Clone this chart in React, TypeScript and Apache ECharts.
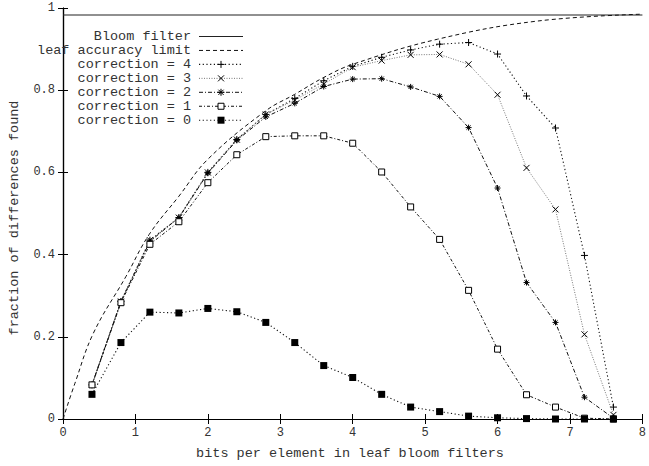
import React, { useEffect, useRef } from "react";
import * as echarts from "echarts";

const xs = [0.4, 0.8, 1.2, 1.6, 2.0, 2.4, 2.8, 3.2, 3.6, 4.0, 4.4, 4.8, 5.2, 5.6, 6.0, 6.4, 6.8, 7.2, 7.6];
const corr4 = [0.083, 0.286, 0.435, 0.49, 0.6, 0.68, 0.741, 0.78, 0.823, 0.858, 0.88, 0.898, 0.912, 0.916, 0.888, 0.786, 0.708, 0.398, 0.029];
const corr3 = [0.083, 0.286, 0.435, 0.49, 0.6, 0.68, 0.741, 0.776, 0.815, 0.856, 0.872, 0.886, 0.887, 0.863, 0.789, 0.611, 0.51, 0.206, 0.01];
const corr2 = [0.083, 0.286, 0.432, 0.49, 0.598, 0.678, 0.735, 0.768, 0.809, 0.827, 0.828, 0.808, 0.785, 0.709, 0.562, 0.332, 0.235, 0.053, 0.002];
const corr1 = [0.083, 0.283, 0.425, 0.48, 0.575, 0.643, 0.687, 0.689, 0.689, 0.671, 0.601, 0.516, 0.437, 0.313, 0.17, 0.059, 0.029, 0.002, 0.0];
const corr0 = [0.06, 0.186, 0.26, 0.258, 0.269, 0.261, 0.235, 0.186, 0.13, 0.101, 0.06, 0.029, 0.018, 0.007, 0.003, 0.001, 0.0, 0.0, 0.0];
const leafX = [0, 0.165, 0.42, 0.87, 1.19, 1.6, 2.0, 2.8, 3.2, 3.6, 4.0, 5.17, 6.54, 8];
const leafY = [0, 0.087, 0.209, 0.347, 0.449, 0.542, 0.632, 0.75, 0.79, 0.831, 0.863, 0.924, 0.968, 0.985];
const bloomX = [0, 8];
const bloomY = [0.983, 0.983];
const legendNames = ["Bloom filter", "leaf accuracy limit", "correction = 4", "correction = 3", "correction = 2", "correction = 1", "correction = 0"];
const xTitle = "bits per element in leaf bloom filters";
const yTitle = "fraction of differences found";

const FONT = "'Liberation Mono', 'Courier New', monospace";
const PLUS = "path://M5,0L5,10M0,5L10,5";
const CROSS = "path://M0,0L10,10M10,0L0,10";
const STAR = "path://M5,0L5,10M0,5L10,5M1.5,1.5L8.5,8.5M8.5,1.5L1.5,8.5";
const TEXT_COLOR = "#333";

const zip = (a: number[], b: number[]) => a.map((v, i) => [v, b[i]]);

const styles = [
  { color: "#222", dash: "solid" as any, width: 1.2 },
  { color: "#111", dash: [4, 3], width: 1 },
  { color: "#111", dash: [1.2, 2.5], width: 1.1 },
  { color: "#777", dash: [1, 1.5], width: 1 },
  { color: "#111", dash: [4, 2, 1, 2], width: 1 },
  { color: "#111", dash: [3, 2, 1, 2], width: 1 },
  { color: "#111", dash: [1.2, 2.5], width: 1.1 },
];

export default function App() {
  const ref = useRef<HTMLDivElement>(null);
  useEffect(() => {
    if (!ref.current) return;
    const chart = echarts.init(ref.current, undefined, { renderer: "svg" });
    const gridLeft = 63, gridTop = 8, gridRight = 3, gridBottom = 47;
    const mk = (name: string, data: number[][], idx: number, symbol: string, size: number, itemStyle: any) => ({
      name,
      type: "line",
      data,
      symbol,
      symbolSize: size,
      showSymbol: symbol !== "none",
      lineStyle: { color: styles[idx].color, width: styles[idx].width, type: styles[idx].dash },
      itemStyle,
      z: 3 + idx,
      silent: true,
    });

    const legendRight = 191;
    const sampleX1 = 199, sampleX2 = 243, markX = 221;
    const rowY0 = 36.5, rowDY = 13.95;
    const graphics: any[] = [];
    legendNames.forEach((n, i) => {
      const y = rowY0 + i * rowDY;
      graphics.push({
        type: "text",
        x: legendRight,
        y,
        style: { text: n, font: `13.5px ${FONT}`, fill: TEXT_COLOR, align: "right", verticalAlign: "middle" },
        z: 100,
      });
      graphics.push({
        type: "line",
        shape: { x1: sampleX1, y1: y, x2: sampleX2, y2: y },
        style: { stroke: styles[i].color, lineWidth: styles[i].width, lineDash: styles[i].dash === "solid" ? null : styles[i].dash },
        z: 100,
      });
      const s = 3.5;
      if (i === 2 || i === 4) {
        graphics.push({ type: "line", shape: { x1: markX - s, y1: y, x2: markX + s, y2: y }, style: { stroke: "#000", lineWidth: 1 }, z: 101 });
        graphics.push({ type: "line", shape: { x1: markX, y1: y - s, x2: markX, y2: y + s }, style: { stroke: "#000", lineWidth: 1 }, z: 101 });
      }
      if (i === 3 || i === 4) {
        const t = i === 4 ? 2.6 : 3;
        graphics.push({ type: "line", shape: { x1: markX - t, y1: y - t, x2: markX + t, y2: y + t }, style: { stroke: "#000", lineWidth: 1 }, z: 101 });
        graphics.push({ type: "line", shape: { x1: markX - t, y1: y + t, x2: markX + t, y2: y - t }, style: { stroke: "#000", lineWidth: 1 }, z: 101 });
      }
      if (i === 5) {
        graphics.push({ type: "rect", shape: { x: markX - 3, y: y - 3, width: 6, height: 6 }, style: { fill: "#fff", stroke: "#000", lineWidth: 1 }, z: 101 });
      }
      if (i === 6) {
        graphics.push({ type: "rect", shape: { x: markX - 3.5, y: y - 3.5, width: 7, height: 7 }, style: { fill: "#000" }, z: 101 });
      }
    });
    graphics.push({
      type: "text",
      x: 350,
      y: 453,
      style: { text: xTitle, font: `13.5px ${FONT}`, fill: TEXT_COLOR, align: "center", verticalAlign: "middle" },
    });
    graphics.push({
      type: "text",
      x: 14,
      y: 218,
      rotation: Math.PI / 2,
      style: { text: yTitle, font: `13.5px ${FONT}`, fill: TEXT_COLOR, align: "center", verticalAlign: "middle" },
    });

    const axisLine = { show: true, lineStyle: { color: "#000", width: 1.2 } };
    const tick = { show: true, inside: true, length: 5, lineStyle: { color: "#000", width: 1 } };
    const lbl = { fontFamily: FONT, fontSize: 12, color: TEXT_COLOR };

    chart.setOption({
      animation: false,
      grid: { left: gridLeft, top: gridTop, right: gridRight, bottom: gridBottom, show: false },
      xAxis: [
        { type: "value", min: 0, max: 8, interval: 1, position: "bottom", axisLine, axisTick: tick, splitLine: { show: false }, axisLabel: { ...lbl, margin: 8 } },
        { type: "value", min: 0, max: 8, interval: 1, position: "top", axisLine, axisTick: tick, splitLine: { show: false }, axisLabel: { show: false } },
      ],
      yAxis: [
        { type: "value", min: 0, max: 1, interval: 0.2, position: "left", axisLine, axisTick: tick, splitLine: { show: false }, axisLabel: { ...lbl, margin: 8 } },
        { type: "value", min: 0, max: 1, interval: 0.2, position: "right", axisLine, axisTick: tick, splitLine: { show: false }, axisLabel: { show: false } },
      ],
      graphic: graphics,
      series: [
        mk(legendNames[0], zip(bloomX, bloomY), 0, "none", 0, {}),
        { ...mk(legendNames[1], zip(leafX, leafY), 1, "none", 0, {}), smooth: 0.4 },
        mk(legendNames[2], zip(xs, corr4), 2, PLUS, 7, { color: "#000", borderColor: "#000", borderWidth: 1 }),
        mk(legendNames[3], zip(xs, corr3), 3, CROSS, 6, { color: "#000", borderColor: "#000", borderWidth: 1 }),
        mk(legendNames[4], zip(xs, corr2), 4, STAR, 6, { color: "#000", borderColor: "#000", borderWidth: 1 }),
        mk(legendNames[5], zip(xs, corr1), 5, "rect", 6, { color: "#fff", borderColor: "#000", borderWidth: 1 }),
        mk(legendNames[6], zip(xs, corr0), 6, "rect", 7, { color: "#000", borderColor: "#000", borderWidth: 0 }),
      ],
    });
    return () => chart.dispose();
  }, []);
  return <div ref={ref} style={{ width: 649, height: 466, position: "absolute", left: 0, top: 0 }} />;
}
